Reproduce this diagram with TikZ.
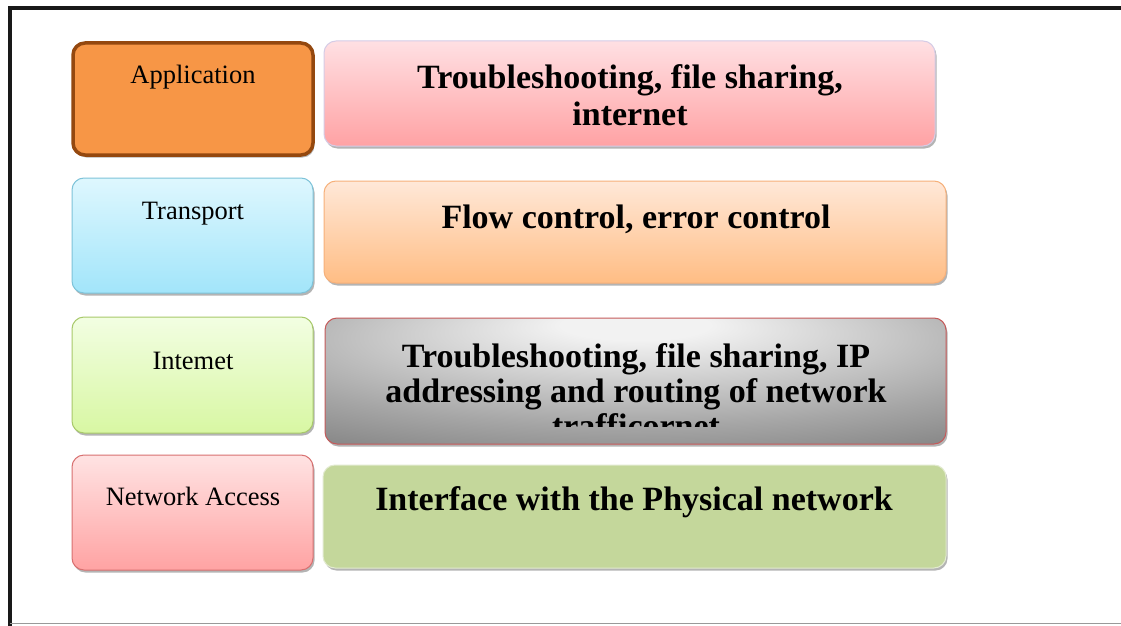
\documentclass[tikz,border=0pt]{standalone}
\usepackage{fontspec}
\setmainfont{Liberation Serif}
\usetikzlibrary{shadows}

% layer colours
\definecolor{appfill}{HTML}{F79646}
\definecolor{appline}{HTML}{94480F}
\definecolor{trntop}{HTML}{DEF7FE}
\definecolor{trnbot}{HTML}{A2E5FA}
\definecolor{trnline}{HTML}{7EC3D9}
\definecolor{inettop}{HTML}{F2FEE2}
\definecolor{inetbot}{HTML}{D8F7A3}
\definecolor{inetline}{HTML}{A8C96A}
\definecolor{nacctop}{HTML}{FFE3E3}
\definecolor{naccbot}{HTML}{FFA3A3}
\definecolor{naccline}{HTML}{D87070}
% description colours
\definecolor{onetop}{HTML}{FFE0E3}
\definecolor{onebot}{HTML}{FFA2A4}
\definecolor{oneline}{HTML}{D5CCE6}
\definecolor{twotop}{HTML}{FFE8D8}
\definecolor{twobot}{HTML}{FFBD84}
\definecolor{twoline}{HTML}{F6B07A}
\definecolor{threeline}{HTML}{C55A5A}
\definecolor{glowin}{HTML}{F2F2F2}
\definecolor{glowmid}{HTML}{A6A6A6}
\definecolor{glowout}{HTML}{777777}
\definecolor{fourfill}{HTML}{C4D79B}
\definecolor{fourline}{HTML}{E2EAD0}

\pgfdeclareradialshading{grayglow}{\pgfpoint{0bp}{24bp}}{%
  color(0bp)=(glowin); color(6bp)=(glowin); color(32bp)=(glowmid); color(50bp)=(glowout); color(80bp)=(glowout)}

\tikzset{
  panel/.style={rounded corners=12pt, line width=1pt, inner sep=0pt,
    drop shadow={shadow xshift=1.5pt, shadow yshift=-2.5pt, opacity=0.45, fill=black!65}},
  layertext/.style={font=\fontsize{26.5}{30}\selectfont, anchor=base, inner sep=0pt},
  desctext/.style={font=\fontsize{34}{37}\selectfont\bfseries, align=center, anchor=north, inner sep=0pt}
}

\begin{document}
\begin{tikzpicture}[x=1pt, y=-1pt]
\useasboundingbox (0,0) rectangle (1121,626);
\fill[white] (0,0) rectangle (1121,626);

% page frame
\draw[line width=4pt, black!90] (8,8.5) -- (1121,8.5);
\draw[line width=4pt, black!90] (9.5,6.5) -- (9.5,626);
\draw[line width=1.2pt, black!40] (9.5,623.5) -- (1121,623.5);

% layer boxes
\node[panel, draw=appline, line width=3.5pt, fill=appfill, minimum width=240pt, minimum height=112pt] (app) at (193,99) {};
\node[panel, draw=trnline, top color=trntop, bottom color=trnbot, minimum width=241pt, minimum height=115pt] (trn) at (192.5,235.5) {};
\node[panel, draw=inetline, top color=inettop, bottom color=inetbot, minimum width=241pt, minimum height=116pt] (inet) at (192.5,375) {};
\node[panel, draw=naccline, top color=nacctop, bottom color=naccbot, minimum width=241pt, minimum height=115pt] (nacc) at (192.5,512.5) {};

\node[layertext] (appt) at (193,84) {Application};
\node[layertext] (trnt) at (193,219) {Transport};
\node[layertext] (inett) at (193,369) {Intemet};
\node[layertext] (nacct) at (193,505) {Network Access};

% description boxes
\node[panel, draw=oneline, top color=onetop, bottom color=onebot, minimum width=611pt, minimum height=105pt] (appd) at (629.5,93.5) {};
\node[panel, draw=twoline, top color=twotop, bottom color=twobot, minimum width=622pt, minimum height=102pt] (trnd) at (635,232) {};
\node[panel, draw=threeline, shading=grayglow, minimum width=621pt, minimum height=126pt] (inetd) at (635.5,381) {};
\node[panel, draw=fourline, fill=fourfill, minimum width=623pt, minimum height=103pt] (naccd) at (634.5,516.5) {};

\node[desctext] (appdt) at (630,64.5) {Troubleshooting, file sharing,\\internet};
\node[desctext] (trndt) at (636,205) {Flow control, error control};
\begin{scope}
  \clip (325,318) rectangle (946,426);
  \node[desctext, font=\fontsize{34}{35}\selectfont\bfseries] (inetdt) at (636,343.5)
    {Troubleshooting, file sharing, IP\\addressing and routing of network\\trafficornet};
\end{scope}
\node[desctext] (naccdt) at (634,486.5) {Interface with the Physical network};
\end{tikzpicture}
\end{document}
